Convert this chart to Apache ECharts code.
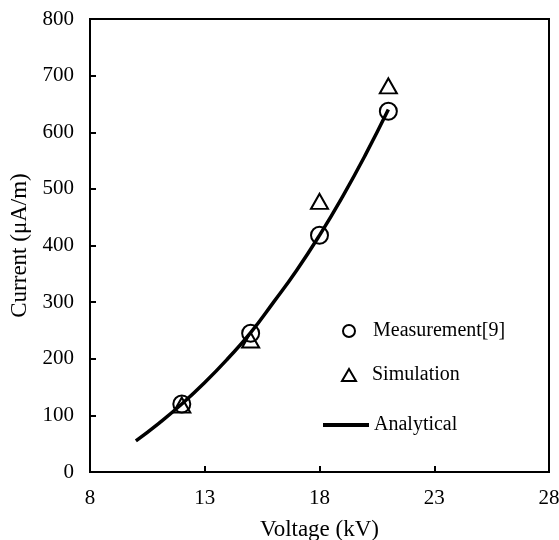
<!DOCTYPE html>
<html><head><meta charset="utf-8">
<script src="https://cdn.jsdelivr.net/npm/echarts@6/dist/echarts.min.js"></script>
<style>html,body{margin:0;padding:0;background:#fff;overflow:hidden}#c{position:absolute;left:0;top:0;width:559px;height:540px}</style>
</head><body><div id="c"></div>
<script>
const measVoltage = [12, 15, 18, 21];
const measCurrent = [120, 245, 418, 637];
const simVoltage = [12, 15, 18, 21];
const simCurrent = [118, 233, 478, 682];
const anaVoltage = [10, 11, 12, 13, 14, 15, 16, 17, 18, 19, 20, 21];
const anaCurrent = [55, 86, 120, 158, 200, 246, 300, 356, 418, 486, 560, 640];
const xTicks = [8, 13, 18, 23, 28];
const yTicks = [0, 100, 200, 300, 400, 500, 600, 700, 800];

const font = 'Liberation Serif';
const chart = echarts.init(document.getElementById('c'), null, {width: 559, height: 540});
const zip = (a, b) => a.map((v, i) => [v, b[i]]);
const legendText = {fontFamily: font, fontSize: 20, color: '#000'};
chart.setOption({
  animation: false,
  backgroundColor: '#fff',
  textStyle: {fontFamily: font, color: '#000'},
  grid: {left: 90, right: 10, top: 19, bottom: 68, show: true, borderColor: '#000', borderWidth: 2,
         backgroundColor: 'transparent', containLabel: false, outerBoundsMode: 'none'},
  xAxis: {
    type: 'value', min: xTicks[0], max: xTicks[xTicks.length - 1], interval: 5,
    name: 'Voltage (kV)', nameLocation: 'middle', nameGap: 46,
    nameTextStyle: {fontFamily: font, fontSize: 23, color: '#000'},
    axisLine: {show: true, lineStyle: {color: '#000', width: 2}},
    axisTick: {show: true, inside: true, length: 6, lineStyle: {color: '#000', width: 2}},
    axisLabel: {fontFamily: font, fontSize: 21, color: '#000', margin: 16},
    splitLine: {show: false}
  },
  yAxis: {
    type: 'value', min: yTicks[0], max: yTicks[yTicks.length - 1], interval: 100,
    name: 'Current (\u03bcA/m)', nameLocation: 'middle', nameGap: 54,
    nameTextStyle: {fontFamily: font, fontSize: 23, color: '#000'},
    axisLine: {show: true, lineStyle: {color: '#000', width: 2}},
    axisTick: {show: true, inside: true, length: 6, lineStyle: {color: '#000', width: 2}},
    axisLabel: {fontFamily: font, fontSize: 21, color: '#000', margin: 16},
    splitLine: {show: false}
  },
  legend: [
    {
      left: 337, top: 316, itemWidth: 12, itemHeight: 12,
      textStyle: Object.assign({padding: [0, 0, 0, 13]}, legendText),
      data: [{name: 'Measurement[9]', icon: 'circle', itemStyle: {color: '#fff', borderColor: '#000', borderWidth: 2}}]
    },
    {
      left: 336, top: 360, itemWidth: 14, itemHeight: 12,
      textStyle: Object.assign({padding: [0, 0, 0, 11]}, legendText),
      data: [{name: 'Simulation', icon: 'triangle', itemStyle: {color: '#fff', borderColor: '#000', borderWidth: 2}}]
    },
    {
      left: 318, top: 410, itemWidth: 46, itemHeight: 4,
      textStyle: legendText,
      data: [{name: 'Analytical', icon: 'rect', itemStyle: {color: '#000'}}]
    }
  ],
  series: [
    {
      name: 'Analytical', type: 'line', smooth: true, symbol: 'none',
      data: zip(anaVoltage, anaCurrent),
      lineStyle: {color: '#000', width: 3.5}, itemStyle: {color: '#000'}, z: 3
    },
    {
      name: 'Measurement[9]', type: 'scatter', symbol: 'circle', symbolSize: 17,
      data: zip(measVoltage, measCurrent),
      itemStyle: {color: 'rgba(255,255,255,0)', borderColor: '#000', borderWidth: 2, opacity: 1}, z: 2
    },
    {
      name: 'Simulation', type: 'scatter', symbol: 'triangle', symbolSize: [17, 15],
      data: zip(simVoltage, simCurrent),
      itemStyle: {color: 'rgba(255,255,255,0)', borderColor: '#000', borderWidth: 2, opacity: 1}, z: 2
    }
  ]
});
</script></body></html>
